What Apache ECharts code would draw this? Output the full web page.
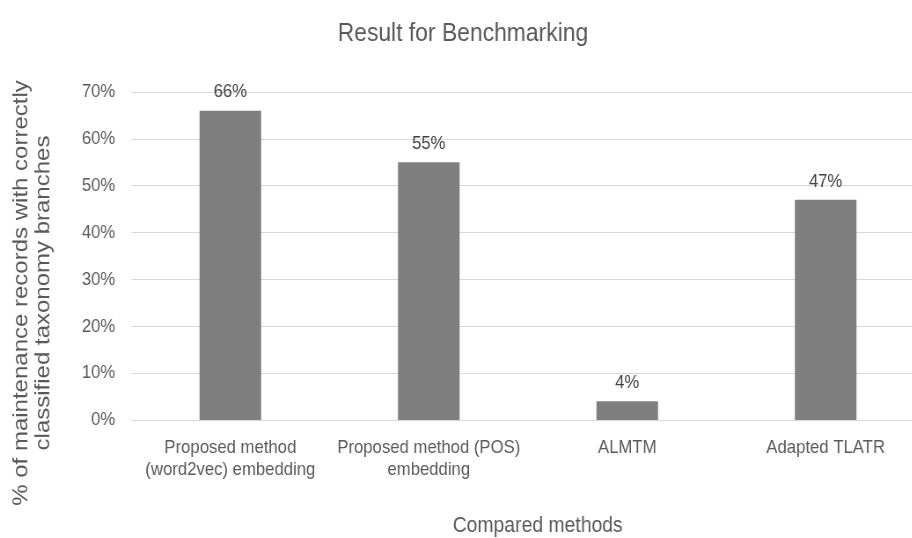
<!DOCTYPE html>
<html>
<head>
<meta charset="utf-8">
<script src="https://cdn.jsdelivr.net/npm/echarts@6/dist/echarts.min.js"></script>
<style>
  html, body { margin: 0; padding: 0; background: #fff; overflow: hidden; }
  #frame { width: 912px; height: 538px; overflow: hidden; position: relative; }
  /* the chart is laid out wide and condensed horizontally to fit the frame */
  #chart { position: absolute; left: 0; top: 0; height: 538px; transform-origin: 0 0; }
</style>
</head>
<body>
<div id="frame"><div id="chart"></div></div>
<script>
// Benchmark results per method (percent of records correctly classified)
const methods = [
  'Proposed method\n(word2vec) embedding',
  'Proposed method (POS)\nembedding',
  'ALMTM',
  'Adapted TLATR'
];
const accuracy = [66, 55, 4, 47];
const yTicks = [0, 10, 20, 30, 40, 50, 60, 70];

// horizontal condensing factor and the unscaled canvas width
const SX = 0.88;
const W = 1052;

const el = document.getElementById('chart');
el.style.width = W + 'px';
el.style.transform = 'scaleX(' + SX + ')';

const font = 'Liberation Sans, Arial, sans-serif';
const textColor = '#595959';

const chart = echarts.init(el);
chart.setOption({
  animation: false,
  title: {
    text: 'Result for Benchmarking',
    left: 'center',
    top: 16,
    textStyle: { fontFamily: font, fontSize: 26, fontWeight: 'normal', color: textColor }
  },
  grid: { left: 149, top: 92, width: 902, height: 328, outerBoundsMode: 'none', containLabel: false },
  xAxis: {
    type: 'category',
    data: methods,
    name: 'Compared methods',
    nameLocation: 'middle',
    nameGap: 95,
    nameTextStyle: { fontFamily: font, fontSize: 22, color: textColor, padding: [0, 0, 0, 22] },
    axisLine: { lineStyle: { color: '#d9d9d9', width: 1 } },
    axisTick: { show: false },
    axisLabel: {
      fontFamily: font, fontSize: 19, color: textColor,
      lineHeight: 22, margin: 17, interval: 0
    }
  },
  yAxis: {
    type: 'value',
    min: yTicks[0],
    max: yTicks[yTicks.length - 1],
    interval: 10,
    name: '% of maintenance records with correctly\nclassified taxonomy branches',
    nameLocation: 'middle',
    nameGap: 87,
    nameRotate: 90,
    nameTextStyle: {
      fontFamily: font, fontSize: 24, color: textColor, lineHeight: 25,
      padding: [0, 74, 0, 0]
    },
    axisLine: { show: false },
    axisTick: { show: false },
    axisLabel: {
      fontFamily: font, fontSize: 19, color: textColor, margin: 18,
      formatter: v => v + '%'
    },
    splitLine: { lineStyle: { color: '#d9d9d9', width: 1 } }
  },
  series: [{
    type: 'bar',
    data: accuracy,
    barWidth: 70,
    itemStyle: { color: '#7f7f7f' },
    label: {
      show: true,
      position: 'top',
      distance: 9,
      formatter: p => p.value + '%',
      fontFamily: font, fontSize: 19, color: '#404040'
    }
  }]
});
</script>
</body>
</html>
